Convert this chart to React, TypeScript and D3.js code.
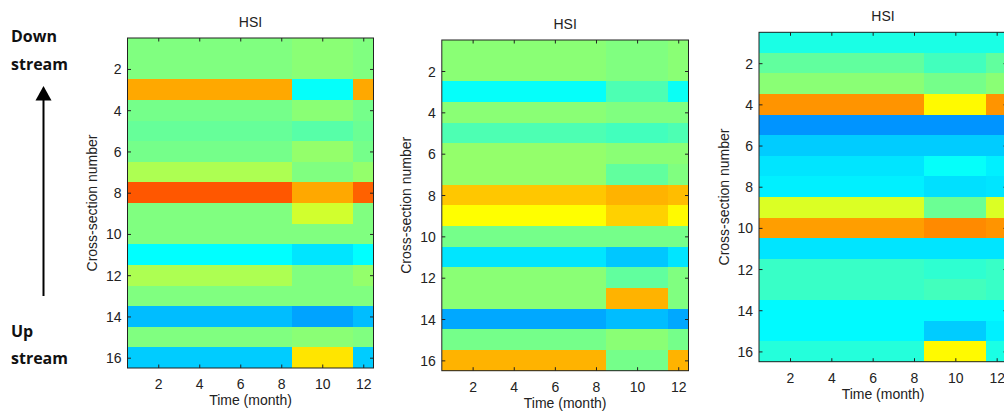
import React, { useEffect, useRef } from "react";
import * as d3 from "d3";

// Month columns and cross-section rows
const months = [1, 2, 3, 4, 5, 6, 7, 8, 9, 10, 11, 12];
const sections = [1, 2, 3, 4, 5, 6, 7, 8, 9, 10, 11, 12, 13, 14, 15, 16];
const xTicks = [2, 4, 6, 8, 10, 12];
const yTicks = [2, 4, 6, 8, 10, 12, 14, 16];
const titles = ["HSI", "HSI", "HSI"];
const xLabel = "Time (month)";
const yLabel = "Cross-section number";

// HSI (normalised colour index) per cross-section row (1..16), per month (1..12)
const hsiPanel1 = [
  [0.5, 0.5, 0.5, 0.5, 0.5, 0.5, 0.5, 0.5, 0.51, 0.51, 0.51, 0.5],
  [0.5, 0.5, 0.5, 0.5, 0.5, 0.5, 0.5, 0.5, 0.51, 0.51, 0.51, 0.5],
  [0.71, 0.71, 0.71, 0.71, 0.71, 0.71, 0.71, 0.71, 0.38, 0.38, 0.38, 0.71],
  [0.49, 0.49, 0.49, 0.49, 0.49, 0.49, 0.49, 0.49, 0.51, 0.51, 0.51, 0.49],
  [0.475, 0.475, 0.475, 0.475, 0.475, 0.475, 0.475, 0.475, 0.46, 0.46, 0.46, 0.48],
  [0.49, 0.49, 0.49, 0.49, 0.49, 0.49, 0.49, 0.49, 0.52, 0.52, 0.52, 0.49],
  [0.545, 0.545, 0.545, 0.545, 0.545, 0.545, 0.545, 0.545, 0.5, 0.5, 0.5, 0.52],
  [0.79, 0.79, 0.79, 0.79, 0.79, 0.79, 0.79, 0.79, 0.71, 0.71, 0.71, 0.78],
  [0.5, 0.5, 0.5, 0.5, 0.5, 0.5, 0.5, 0.5, 0.58, 0.58, 0.58, 0.5],
  [0.5, 0.5, 0.5, 0.5, 0.5, 0.5, 0.5, 0.5, 0.5, 0.5, 0.5, 0.5],
  [0.375, 0.375, 0.375, 0.375, 0.375, 0.375, 0.375, 0.375, 0.35, 0.35, 0.35, 0.375],
  [0.545, 0.545, 0.545, 0.545, 0.545, 0.545, 0.545, 0.545, 0.5, 0.5, 0.5, 0.52],
  [0.5, 0.5, 0.5, 0.5, 0.5, 0.5, 0.5, 0.5, 0.5, 0.5, 0.5, 0.5],
  [0.31, 0.31, 0.31, 0.31, 0.31, 0.31, 0.31, 0.31, 0.285, 0.285, 0.285, 0.31],
  [0.5, 0.5, 0.5, 0.5, 0.5, 0.5, 0.5, 0.5, 0.51, 0.51, 0.51, 0.5],
  [0.325, 0.325, 0.325, 0.325, 0.325, 0.325, 0.325, 0.325, 0.65, 0.65, 0.65, 0.325],
];

const hsiPanel2 = [
  [0.51, 0.51, 0.51, 0.51, 0.51, 0.51, 0.51, 0.51, 0.5, 0.5, 0.5, 0.51],
  [0.51, 0.51, 0.51, 0.51, 0.51, 0.51, 0.51, 0.51, 0.5, 0.5, 0.5, 0.51],
  [0.38, 0.38, 0.38, 0.38, 0.38, 0.38, 0.38, 0.38, 0.45, 0.45, 0.45, 0.385],
  [0.51, 0.51, 0.51, 0.51, 0.51, 0.51, 0.51, 0.51, 0.5, 0.5, 0.5, 0.5],
  [0.45, 0.45, 0.45, 0.45, 0.45, 0.45, 0.45, 0.45, 0.44, 0.44, 0.44, 0.45],
  [0.52, 0.52, 0.52, 0.52, 0.52, 0.52, 0.52, 0.52, 0.51, 0.51, 0.51, 0.51],
  [0.52, 0.52, 0.52, 0.52, 0.52, 0.52, 0.52, 0.52, 0.47, 0.47, 0.47, 0.5],
  [0.68, 0.68, 0.68, 0.68, 0.68, 0.68, 0.68, 0.68, 0.7, 0.7, 0.7, 0.69],
  [0.625, 0.625, 0.625, 0.625, 0.625, 0.625, 0.625, 0.625, 0.67, 0.67, 0.67, 0.63],
  [0.49, 0.49, 0.49, 0.49, 0.49, 0.49, 0.49, 0.49, 0.49, 0.49, 0.49, 0.49],
  [0.35, 0.35, 0.35, 0.35, 0.35, 0.35, 0.35, 0.35, 0.32, 0.32, 0.32, 0.35],
  [0.51, 0.51, 0.51, 0.51, 0.51, 0.51, 0.51, 0.51, 0.47, 0.47, 0.47, 0.5],
  [0.51, 0.51, 0.51, 0.51, 0.51, 0.51, 0.51, 0.51, 0.7, 0.7, 0.7, 0.5],
  [0.29, 0.29, 0.29, 0.29, 0.29, 0.29, 0.29, 0.29, 0.31, 0.31, 0.31, 0.29],
  [0.49, 0.49, 0.49, 0.49, 0.49, 0.49, 0.49, 0.49, 0.51, 0.51, 0.51, 0.49],
  [0.7, 0.7, 0.7, 0.7, 0.7, 0.7, 0.7, 0.7, 0.49, 0.49, 0.49, 0.7],
];

const hsiPanel3 = [
  [0.4, 0.4, 0.4, 0.4, 0.4, 0.4, 0.4, 0.4, 0.4, 0.4, 0.4, 0.4],
  [0.47, 0.47, 0.47, 0.47, 0.47, 0.47, 0.47, 0.47, 0.44, 0.44, 0.44, 0.47],
  [0.51, 0.51, 0.51, 0.51, 0.51, 0.51, 0.51, 0.51, 0.49, 0.49, 0.49, 0.51],
  [0.73, 0.73, 0.73, 0.73, 0.73, 0.73, 0.73, 0.73, 0.63, 0.63, 0.63, 0.73],
  [0.27, 0.27, 0.27, 0.27, 0.27, 0.27, 0.27, 0.27, 0.27, 0.27, 0.27, 0.27],
  [0.325, 0.325, 0.325, 0.325, 0.325, 0.325, 0.325, 0.325, 0.325, 0.325, 0.325, 0.325],
  [0.35, 0.35, 0.35, 0.35, 0.35, 0.35, 0.35, 0.35, 0.38, 0.38, 0.38, 0.36],
  [0.36, 0.36, 0.36, 0.36, 0.36, 0.36, 0.36, 0.36, 0.345, 0.345, 0.345, 0.35],
  [0.59, 0.59, 0.59, 0.59, 0.59, 0.59, 0.59, 0.59, 0.48, 0.48, 0.48, 0.59],
  [0.72, 0.72, 0.72, 0.72, 0.72, 0.72, 0.72, 0.72, 0.74, 0.74, 0.74, 0.73],
  [0.35, 0.35, 0.35, 0.35, 0.35, 0.35, 0.35, 0.35, 0.35, 0.35, 0.35, 0.35],
  [0.43, 0.43, 0.43, 0.43, 0.43, 0.43, 0.43, 0.43, 0.42, 0.42, 0.42, 0.43],
  [0.43, 0.43, 0.43, 0.43, 0.43, 0.43, 0.43, 0.43, 0.44, 0.44, 0.44, 0.43],
  [0.37, 0.37, 0.37, 0.37, 0.37, 0.37, 0.37, 0.37, 0.37, 0.37, 0.37, 0.37],
  [0.37, 0.37, 0.37, 0.37, 0.37, 0.37, 0.37, 0.37, 0.325, 0.325, 0.325, 0.36],
  [0.41, 0.41, 0.41, 0.41, 0.41, 0.41, 0.41, 0.41, 0.63, 0.63, 0.63, 0.4],
];

// jet colormap stops
const jetStops = [0, 0.125, 0.375, 0.625, 0.875, 1];
const jetColors = ["#000080", "#0000ff", "#00ffff", "#ffff00", "#ff0000", "#800000"];

const W = 1004;
const H = 417;
const FONT = "'Liberation Sans', Arial, Helvetica, sans-serif";

const layouts = [
  { left: 127.5, top: 38, width: 246, height: 330 },
  { left: 441.8, top: 40, width: 246.7, height: 330.7 },
  { left: 759, top: 32.3, width: 248, height: 329.4 },
];

export default function App() {
  const ref = useRef<SVGSVGElement | null>(null);

  useEffect(() => {
    const svg = d3.select(ref.current);
    svg.selectAll("*").remove();
    const color = d3
      .scaleLinear<string>()
      .domain(jetStops)
      .range(jetColors)
      .interpolate(d3.interpolateRgb)
      .clamp(true);

    const panels = [hsiPanel1, hsiPanel2, hsiPanel3];

    panels.forEach((data, pi) => {
      const L = layouts[pi];
      const x = d3.scaleLinear().domain([0.5, 12.5]).range([L.left, L.left + L.width]);
      const y = d3.scaleLinear().domain([0.5, 16.5]).range([L.top, L.top + L.height]);
      const g = svg.append("g");

      // cells
      const cells = g.append("g").attr("shape-rendering", "crispEdges");
      sections.forEach((s, ri) => {
        months.forEach((m, ci) => {
          const x0 = Math.round(x(m - 0.5));
          const x1 = Math.round(x(m + 0.5));
          const y0 = Math.round(y(s - 0.5));
          const y1 = Math.round(y(s + 0.5));
          cells
            .append("rect")
            .attr("x", x0)
            .attr("y", y0)
            .attr("width", x1 - x0)
            .attr("height", y1 - y0)
            .attr("fill", color(data[ri][ci]));
        });
      });

      const styleAxis = (sel: any, labels: boolean) => {
        sel.select(".domain").remove();
        sel.selectAll(".tick line").attr("stroke", "#222").attr("stroke-width", 1);
        sel
          .selectAll(".tick text")
          .attr("fill", "#222")
          .style("font-family", FONT)
          .style("font-size", "14px");
        if (!labels) sel.selectAll(".tick text").remove();
      };

      const bottom = g
        .append("g")
        .attr("transform", `translate(0,${L.top + L.height})`)
        .call(d3.axisBottom(x).tickValues(xTicks).tickSize(-3.5).tickPadding(8));
      styleAxis(bottom, true);
      bottom.selectAll(".tick text").attr("y", 21).attr("dy", 0);

      const top = g
        .append("g")
        .attr("transform", `translate(0,${L.top})`)
        .call(d3.axisTop(x).tickValues(xTicks).tickSize(-3.5));
      styleAxis(top, false);

      const leftAx = g
        .append("g")
        .attr("transform", `translate(${L.left},0)`)
        .call(d3.axisLeft(y).tickValues(yTicks).tickSize(-3.5).tickPadding(6));
      styleAxis(leftAx, true);
      leftAx.selectAll(".tick text").attr("x", -6).attr("dy", "0.36em");

      const rightAx = g
        .append("g")
        .attr("transform", `translate(${L.left + L.width},0)`)
        .call(d3.axisRight(y).tickValues(yTicks).tickSize(-3.5));
      styleAxis(rightAx, false);

      // frame
      g.append("rect")
        .attr("x", L.left)
        .attr("y", L.top)
        .attr("width", L.width)
        .attr("height", L.height)
        .attr("fill", "none")
        .attr("stroke", "#222")
        .attr("stroke-width", 1);

      // title
      g.append("text")
        .attr("x", L.left + L.width / 2)
        .attr("y", L.top - 11)
        .attr("text-anchor", "middle")
        .attr("fill", "#222")
        .style("font-family", FONT)
        .style("font-size", "14px")
        .text(titles[pi]);

      // x label
      g.append("text")
        .attr("x", L.left + L.width / 2)
        .attr("y", L.top + L.height + 37)
        .attr("text-anchor", "middle")
        .attr("fill", "#222")
        .style("font-family", FONT)
        .style("font-size", "14px")
        .text(xLabel);

      // y label
      const yl = L.left - 30.5;
      const yc = L.top + L.height / 2;
      g.append("text")
        .attr("transform", `translate(${yl},${yc}) rotate(-90)`)
        .attr("text-anchor", "middle")
        .attr("fill", "#222")
        .style("font-family", FONT)
        .style("font-size", "14px")
        .text(yLabel);
    });

    // Stream direction annotation
    const ann = svg.append("g").style("font-family", "'Open Sans', sans-serif").style("font-weight", 700).style("font-size", "16px").attr("fill", "#111");
    ann.append("text").attr("x", 11).attr("y", 42).text("Down");
    ann.append("text").attr("x", 11).attr("y", 70).text("stream");
    ann.append("text").attr("x", 11).attr("y", 337).text("Up");
    ann.append("text").attr("x", 11).attr("y", 364).text("stream");
    svg.append("line")
      .attr("x1", 43.5).attr("x2", 43.5)
      .attr("y1", 296).attr("y2", 98)
      .attr("stroke", "#000").attr("stroke-width", 2);
    svg.append("path")
      .attr("d", d3.line()([[43.5, 86], [35.5, 100.5], [51.5, 100.5]]) + "Z")
      .attr("fill", "#000");
  }, []);

  return (
    <svg
      ref={ref}
      width={W}
      height={H}
      style={{ position: "absolute", left: 0, top: 0, background: "#fff" }}
    />
  );
}
